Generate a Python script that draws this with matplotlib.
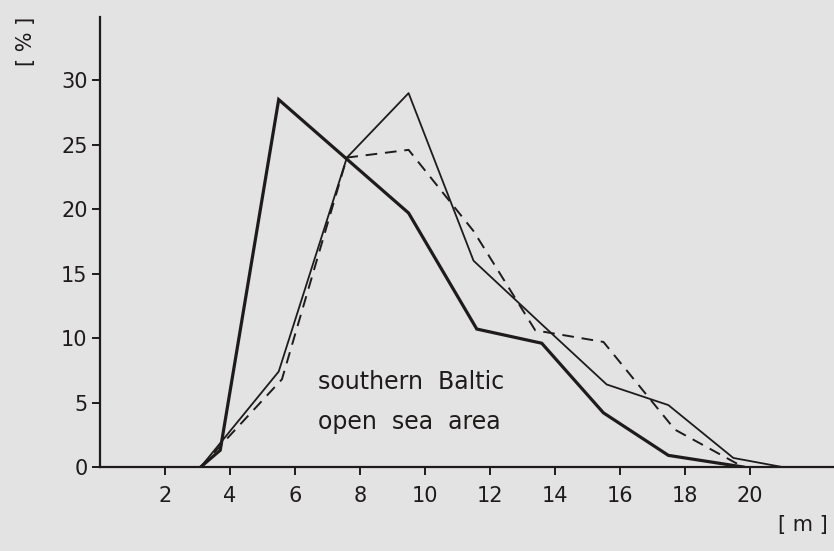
import matplotlib
matplotlib.use("Agg")
import matplotlib.pyplot as plt

# depth class positions [m] and frequencies [%]
x_thick = [3.1, 3.7, 5.5, 9.5, 11.6, 13.6, 15.5, 17.5, 19.8]
y_thick = [0.0, 1.3, 28.5, 19.7, 10.7, 9.6, 4.2, 0.9, 0.0]

x_thin = [3.1, 5.5, 7.6, 9.5, 11.5, 13.5, 15.6, 17.5, 19.5, 21.0]
y_thin = [0.0, 7.4, 24.0, 29.0, 16.0, 11.3, 6.4, 4.8, 0.7, 0.0]

x_dash = [3.1, 5.6, 7.6, 9.5, 11.5, 13.4, 15.5, 17.7, 19.8]
y_dash = [0.0, 6.8, 24.0, 24.6, 18.3, 10.6, 9.7, 2.9, 0.0]

xticks = [2, 4, 6, 8, 10, 12, 14, 16, 18, 20]
yticks = [0, 5, 10, 15, 20, 25, 30]

bg = "#e3e3e4"
ink = "#1f1b1b"

fig = plt.figure(figsize=(8.34, 5.51), dpi=100, facecolor=bg)
ax = fig.add_axes([0.12, 0.1525, 0.88, 0.8165])
ax.set_facecolor(bg)

ax.plot(x_thick, y_thick, color=ink, lw=2.3, solid_joinstyle="miter")
ax.plot(x_thin, y_thin, color=ink, lw=1.3)
ax.plot(x_dash, y_dash, color=ink, lw=1.4, dashes=(6, 4))

ax.set_xlim(0, 22.6)
ax.set_ylim(0, 34.9)
for s in ["top", "right"]:
    ax.spines[s].set_visible(False)
for s in ["left", "bottom"]:
    ax.spines[s].set_color(ink)
    ax.spines[s].set_linewidth(1.6)

ax.set_xticks(xticks)
ax.set_yticks(yticks)
ax.set_xticklabels([str(v) for v in xticks])
ax.set_yticklabels([str(v) for v in yticks])
ax.tick_params(axis="both", direction="out", length=6, width=1.4, color=ink,
               labelcolor=ink, labelsize=15)
ax.tick_params(axis="x", pad=8)
ax.tick_params(axis="y", pad=3)

fig.text(0.031, 0.925, "[ % ]", rotation=90, ha="center", va="center",
         fontsize=15, color=ink)
fig.text(0.963, 0.047, "[ m ]", ha="center", va="center", fontsize=15, color=ink)

ax.text(6.7, 6.6, "southern  Baltic", ha="left", va="center",
        fontsize=17, color=ink)
ax.text(6.7, 3.5, "open  sea  area", ha="left", va="center",
        fontsize=17, color=ink)

fig.savefig("out.png", dpi=100, facecolor=bg)
